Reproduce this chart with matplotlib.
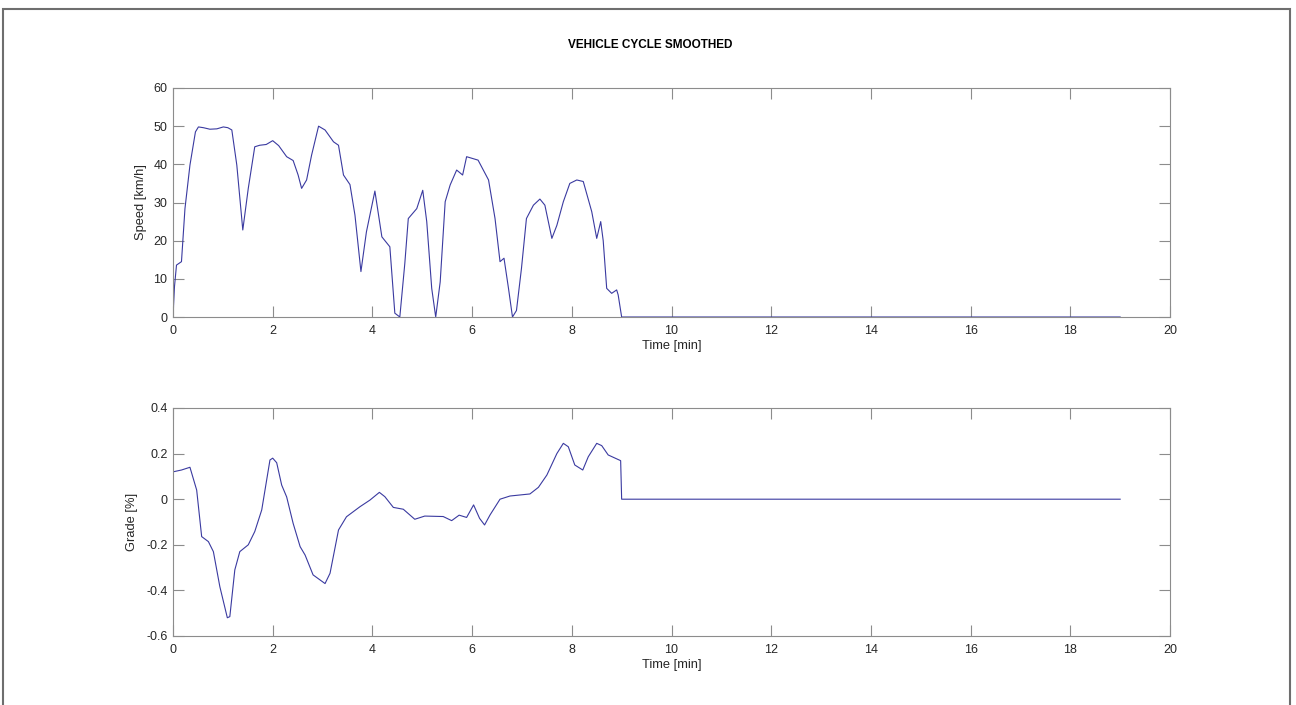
import numpy as np
import matplotlib
matplotlib.use('Agg')
import matplotlib.pyplot as plt
from matplotlib.patches import Rectangle

# speed trace [min, km/h]
speed_t = [0, 0.03, 0.07, 0.17, 0.24, 0.34, 0.45, 0.51, 0.61, 0.74, 0.88, 1.01, 1.10,
           1.18, 1.28, 1.40, 1.51, 1.64, 1.74, 1.87, 2.00, 2.12, 2.28, 2.41, 2.51, 2.58,
           2.68, 2.78, 2.92, 3.05, 3.22, 3.32, 3.42, 3.55, 3.65, 3.77, 3.88, 4.05, 4.19,
           4.35, 4.45, 4.55, 4.65, 4.72, 4.89, 5.01, 5.09, 5.19, 5.27, 5.36, 5.46, 5.56,
           5.69, 5.81, 5.89, 6.12, 6.33, 6.46, 6.56, 6.64, 6.73, 6.81, 6.89, 6.99, 7.09,
           7.23, 7.36, 7.46, 7.60, 7.70, 7.83, 7.96, 8.10, 8.23, 8.40, 8.50, 8.58, 8.63,
           8.70, 8.80, 8.90, 8.93, 9.00, 19.0]
speed_v = [0, 8, 13.6, 14.5, 28.4, 39.8, 48.5, 49.8, 49.6, 49.2, 49.3, 49.8, 49.6,
           49.0, 39.8, 22.8, 33.7, 44.6, 45.0, 45.2, 46.2, 44.9, 42.0, 41.0, 37.2, 33.7,
           35.9, 42.4, 50.0, 49.0, 45.9, 45.0, 37.2, 34.7, 26.7, 11.9, 22.3, 33.0, 21.0,
           18.4, 1.0, 0, 14, 25.8, 28.4, 33.2, 25, 7.5, 0, 9.2, 30.2, 34.6,
           38.5, 37.2, 42, 41.1, 35.9, 25.8, 14.5, 15.4, 7.5, 0, 1.7, 12.7, 25.8,
           29.3, 30.9, 29.3, 20.6, 24, 30.2, 35, 35.9, 35.5, 27.6, 20.6, 25, 20,
           7.5, 6.2, 7.1, 5.8, 0, 0]

# grade trace [min, %]
grade_t = [0, 0.17, 0.34, 0.475, 0.575, 0.71, 0.81, 0.94, 1.09, 1.14, 1.24, 1.34, 1.51,
           1.64, 1.78, 1.945, 2.0, 2.08, 2.18, 2.28, 2.41, 2.55, 2.65, 2.81, 3.05, 3.15,
           3.32, 3.48, 3.75, 3.95, 4.14, 4.25, 4.42, 4.62, 4.85, 5.05, 5.42, 5.59, 5.74,
           5.89, 6.03, 6.15, 6.25, 6.36, 6.56, 6.76, 7.16, 7.33, 7.5, 7.7, 7.83, 7.93,
           8.06, 8.22, 8.33, 8.5, 8.6, 8.73, 8.98, 9.0, 19.0]
grade_v = [0.12, 0.128, 0.14, 0.04, -0.164, -0.186, -0.23, -0.384, -0.52, -0.515, -0.31,
           -0.23, -0.2, -0.142, -0.047, 0.172, 0.18, 0.16, 0.062, 0.01, -0.106, -0.208,
           -0.245, -0.332, -0.37, -0.325, -0.135, -0.077, -0.033, -0.004, 0.03, 0.011,
           -0.036, -0.044, -0.088, -0.074, -0.076, -0.094, -0.07, -0.08, -0.025, -0.084,
           -0.113, -0.069, 0.0, 0.014, 0.023, 0.052, 0.106, 0.2, 0.245, 0.23, 0.15,
           0.128, 0.186, 0.245, 0.235, 0.194, 0.169, 0.0, 0.0]

line_color = '#3a3aa0'
spine_color = '#8c8c8c'
text_color = '#262626'

plt.rcParams['font.family'] = ['Liberation Sans', 'DejaVu Sans']

fig = plt.figure(figsize=(12.96, 7.05), dpi=100)
fig.patches.append(Rectangle((3 / 1296, -0.05), 1287 / 1296, 1.05 - 9 / 705,
                             transform=fig.transFigure, fill=False,
                             edgecolor='#6e6e6e', linewidth=1.5))

ax1 = fig.add_axes([173 / 1296, 1 - 317 / 705, 997 / 1296, 229 / 705])
ax2 = fig.add_axes([173 / 1296, 1 - 636 / 705, 997 / 1296, 228 / 705])


def style_axes(ax):
    for sp in ax.spines.values():
        sp.set_color(spine_color)
        sp.set_linewidth(0.8)
    ax.tick_params(direction='in', length=8, width=0.8, color=spine_color,
                   labelsize=9, labelcolor=text_color, top=True, right=True)
    ax.tick_params(axis='x', pad=6)
    ax.tick_params(axis='y', pad=4)


ax1.plot(speed_t, speed_v, color=line_color, linewidth=0.8)
ax1.set_xlim(0, 20)
ax1.set_ylim(0, 60)
ax1.set_xticks(np.arange(0, 21, 2))
ax1.set_yticks(np.arange(0, 61, 10))
ax1.set_xlabel('Time [min]', fontsize=9.3, color=text_color, labelpad=2)
ax1.set_ylabel('Speed [km/h]', fontsize=9.3, color=text_color)
ax1.yaxis.set_label_coords(-0.0264, 0.5)
style_axes(ax1)

ax2.plot(grade_t, grade_v, color=line_color, linewidth=0.8)
ax2.set_xlim(0, 20)
ax2.set_ylim(-0.6, 0.4)
ax2.set_xticks(np.arange(0, 21, 2))
ax2.set_yticks([-0.6, -0.4, -0.2, 0, 0.2, 0.4])
ax2.set_yticklabels(['-0.6', '-0.4', '-0.2', '0', '0.2', '0.4'])
ax2.set_xlabel('Time [min]', fontsize=9.3, color=text_color, labelpad=2)
ax2.set_ylabel('Grade [%]', fontsize=9.3, color=text_color)
ax2.yaxis.set_label_coords(-0.0354, 0.5)
style_axes(ax2)

fig.text(650 / 1296, 1 - 45 / 705, 'VEHICLE CYCLE SMOOTHED', ha='center', va='center',
         fontsize=8.5, fontweight='bold', color='black')

fig.savefig('out.png', dpi=100, facecolor='white')
